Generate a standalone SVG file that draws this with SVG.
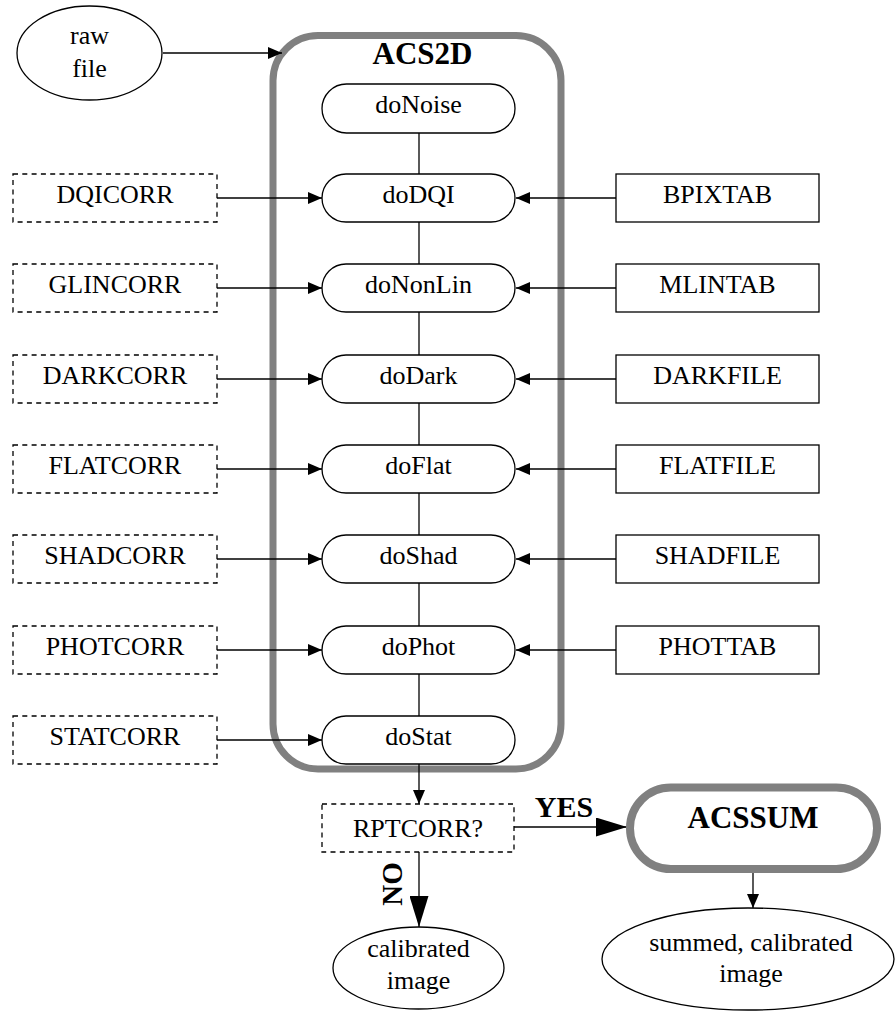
<svg xmlns="http://www.w3.org/2000/svg" width="895" height="1012" viewBox="0 0 895 1012">
<style>
text{font-family:"Liberation Serif","Times New Roman",serif;fill:#000;text-anchor:middle}
.t{font-size:26px}
.b{font-size:31px;font-weight:bold}
.proc{fill:#fff;stroke:#000;stroke-width:1.3}
.dash{fill:#fff;stroke:#000;stroke-width:1.3;stroke-dasharray:5,4.3}
.solid{fill:#fff;stroke:#000;stroke-width:1.3}
.big{fill:none;stroke:#808080;stroke-width:7}
.ln{stroke:#000;stroke-width:1.3;fill:none}
</style>
<defs>
<marker id="ah" markerWidth="14" markerHeight="12" refX="14" refY="6" orient="auto" markerUnits="userSpaceOnUse"><path d="M0,0 L14,6 L0,12 z" fill="#000"/></marker>
<marker id="ahb" markerWidth="31" markerHeight="19" refX="31" refY="9.5" orient="auto" markerUnits="userSpaceOnUse"><path d="M0,0 L31,9.5 L0,19 z" fill="#000"/></marker>
</defs>

<g id="acs2d">
<rect class="big" x="273" y="35.5" width="288" height="733.5" rx="45" ry="45"/>
<text class="b" x="422.5" y="64">ACS2D</text>
</g>

<g id="connectors">
<line class="ln" x1="163" y1="53" x2="282" y2="53" marker-end="url(#ah)"/>
<line class="ln" x1="419" y1="133" x2="419" y2="174"/>
<line class="ln" x1="419" y1="222" x2="419" y2="264"/>
<line class="ln" x1="419" y1="312" x2="419" y2="355"/>
<line class="ln" x1="419" y1="403" x2="419" y2="445"/>
<line class="ln" x1="419" y1="493" x2="419" y2="535"/>
<line class="ln" x1="419" y1="583" x2="419" y2="626"/>
<line class="ln" x1="419" y1="674" x2="419" y2="716"/>
<line class="ln" x1="217" y1="198" x2="322" y2="198" marker-end="url(#ah)"/>
<line class="ln" x1="217" y1="288" x2="322" y2="288" marker-end="url(#ah)"/>
<line class="ln" x1="217" y1="379" x2="322" y2="379" marker-end="url(#ah)"/>
<line class="ln" x1="217" y1="469" x2="322" y2="469" marker-end="url(#ah)"/>
<line class="ln" x1="217" y1="559" x2="322" y2="559" marker-end="url(#ah)"/>
<line class="ln" x1="217" y1="650" x2="322" y2="650" marker-end="url(#ah)"/>
<line class="ln" x1="217" y1="740" x2="322" y2="740" marker-end="url(#ah)"/>
<line class="ln" x1="616" y1="198" x2="516" y2="198" marker-end="url(#ah)"/>
<line class="ln" x1="616" y1="288" x2="516" y2="288" marker-end="url(#ah)"/>
<line class="ln" x1="616" y1="379" x2="516" y2="379" marker-end="url(#ah)"/>
<line class="ln" x1="616" y1="469" x2="516" y2="469" marker-end="url(#ah)"/>
<line class="ln" x1="616" y1="559" x2="516" y2="559" marker-end="url(#ah)"/>
<line class="ln" x1="616" y1="650" x2="516" y2="650" marker-end="url(#ah)"/>
<line class="ln" x1="419" y1="764" x2="419" y2="804" marker-end="url(#ah)"/>
<line class="ln" x1="514" y1="827" x2="627" y2="827" marker-end="url(#ahb)"/>
<line class="ln" x1="419" y1="852" x2="419" y2="927" marker-end="url(#ahb)"/>
<line class="ln" x1="753" y1="873" x2="753" y2="908" marker-end="url(#ah)"/>
<text class="b" x="564" y="817" style="font-size:30px">YES</text>
<text class="b" transform="translate(402,884) rotate(-90)" style="font-size:29px">NO</text>
</g>

<g id="rawfile">
<ellipse class="solid" cx="89.5" cy="53" rx="72.5" ry="47"/>
<text class="t" x="89.5" y="44">raw</text>
<text class="t" x="89.5" y="77">file</text>
</g>

<g id="doNoise"><rect class="proc" x="322" y="84" width="193" height="49" rx="24.5"/><text class="t" x="418.5" y="113">doNoise</text></g>
<g id="doDQI"><rect class="proc" x="322" y="174" width="193" height="48" rx="24"/><text class="t" x="418.5" y="203">doDQI</text></g>
<g id="doNonLin"><rect class="proc" x="322" y="264" width="193" height="48" rx="24"/><text class="t" x="418.5" y="293">doNonLin</text></g>
<g id="doDark"><rect class="proc" x="322" y="355" width="193" height="48" rx="24"/><text class="t" x="418.5" y="384">doDark</text></g>
<g id="doFlat"><rect class="proc" x="322" y="445" width="193" height="48" rx="24"/><text class="t" x="418.5" y="474">doFlat</text></g>
<g id="doShad"><rect class="proc" x="322" y="535" width="193" height="48" rx="24"/><text class="t" x="418.5" y="564">doShad</text></g>
<g id="doPhot"><rect class="proc" x="322" y="626" width="193" height="48" rx="24"/><text class="t" x="418.5" y="655">doPhot</text></g>
<g id="doStat"><rect class="proc" x="322" y="716" width="193" height="48" rx="24"/><text class="t" x="418.5" y="745">doStat</text></g>

<g id="DQICORR"><rect class="dash" x="13" y="174" width="204" height="48"/><text class="t" x="115" y="203">DQICORR</text></g>
<g id="GLINCORR"><rect class="dash" x="13" y="264" width="204" height="48"/><text class="t" x="115" y="293">GLINCORR</text></g>
<g id="DARKCORR"><rect class="dash" x="13" y="355" width="204" height="48"/><text class="t" x="115" y="384">DARKCORR</text></g>
<g id="FLATCORR"><rect class="dash" x="13" y="445" width="204" height="48"/><text class="t" x="115" y="474">FLATCORR</text></g>
<g id="SHADCORR"><rect class="dash" x="13" y="535" width="204" height="48"/><text class="t" x="115" y="564">SHADCORR</text></g>
<g id="PHOTCORR"><rect class="dash" x="13" y="626" width="204" height="48"/><text class="t" x="115" y="655">PHOTCORR</text></g>
<g id="STATCORR"><rect class="dash" x="13" y="716" width="204" height="48"/><text class="t" x="115" y="745">STATCORR</text></g>

<g id="BPIXTAB"><rect class="solid" x="616" y="174" width="203" height="48"/><text class="t" x="717.5" y="203">BPIXTAB</text></g>
<g id="MLINTAB"><rect class="solid" x="616" y="264" width="203" height="48"/><text class="t" x="717.5" y="293">MLINTAB</text></g>
<g id="DARKFILE"><rect class="solid" x="616" y="355" width="203" height="48"/><text class="t" x="717.5" y="384">DARKFILE</text></g>
<g id="FLATFILE"><rect class="solid" x="616" y="445" width="203" height="48"/><text class="t" x="717.5" y="474">FLATFILE</text></g>
<g id="SHADFILE"><rect class="solid" x="616" y="535" width="203" height="48"/><text class="t" x="717.5" y="564">SHADFILE</text></g>
<g id="PHOTTAB"><rect class="solid" x="616" y="626" width="203" height="48"/><text class="t" x="717.5" y="655">PHOTTAB</text></g>

<g id="RPTCORR"><rect class="dash" x="322" y="804" width="192" height="48"/><text class="t" x="418" y="837">RPTCORR?</text></g>

<g id="ACSSUM">
<rect x="630" y="787.5" width="247" height="81.5" rx="40.75" fill="#fff" stroke="#808080" stroke-width="8"/>
<text class="b" x="753" y="828">ACSSUM</text>
</g>

<g id="calibrated">
<ellipse class="solid" cx="418.5" cy="968" rx="85.5" ry="41"/>
<text class="t" x="418.5" y="957">calibrated</text>
<text class="t" x="418.5" y="989">image</text>
</g>

<g id="summed">
<ellipse class="solid" cx="748" cy="959" rx="146" ry="51"/>
<text class="t" x="751" y="951">summed, calibrated</text>
<text class="t" x="751" y="982">image</text>
</g>
</svg>
